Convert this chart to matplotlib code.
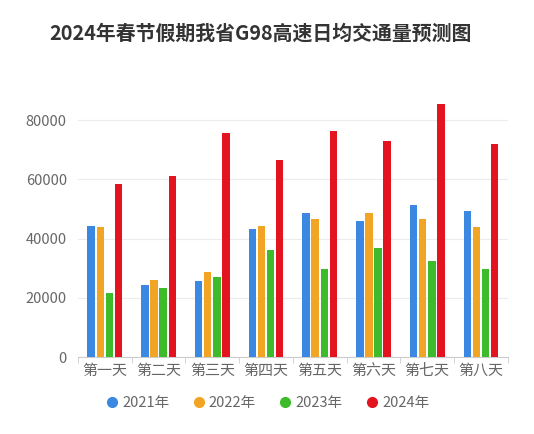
import matplotlib as mpl

mpl.use("Agg")
import matplotlib.pyplot as plt
import numpy as np
from matplotlib.lines import Line2D

plt.rcParams["font.family"] = ["Noto Sans CJK SC", "DejaVu Sans"]

# data
days = ["第一天", "第二天", "第三天", "第四天", "第五天", "第六天", "第七天", "第八天"]
years = ["2021年", "2022年", "2023年", "2024年"]
v2021 = [44200, 24300, 25700, 43300, 48500, 45800, 51200, 49400]
v2022 = [44000, 26000, 28900, 44400, 46500, 48700, 46800, 43800]
v2023 = [21700, 23200, 27100, 36100, 29800, 36800, 32500, 29900]
v2024 = [58600, 61100, 75800, 66500, 76200, 72800, 85300, 72100]
yticks = [0, 20000, 40000, 60000, 80000]

COLORS = ["#3a88e2", "#f2a524", "#3dbb2b", "#e3141f"]
TEXT = "#666666"
GRID = "#ececec"
AXIS = "#cccccc"

fig = plt.figure(figsize=(5.34, 4.34), dpi=100)
fig.patch.set_facecolor("white")
ax = fig.add_axes([0.146, 0.177, 0.805, 0.594])

x = np.arange(len(days))
width = 0.14
step = 0.17
series = [v2021, v2022, v2023, v2024]
for i, (vals, col) in enumerate(zip(series, COLORS)):
    ax.bar(x + (i - 1.5) * step, vals, width=width, color=col, zorder=3)

ax.set_xlim(-0.5, len(days) - 0.5)
ax.set_ylim(0, 87000)
ax.set_yticks(yticks)
ax.set_yticklabels([str(t) for t in yticks])
ax.set_xticks(x)
ax.set_xticklabels(days)
ax.set_xticks(np.arange(-0.5, len(days)), minor=True)
ax.tick_params(axis="x", which="major", length=0, labelsize=10.8, colors=TEXT, pad=5)
ax.tick_params(axis="x", which="minor", length=4, color=AXIS, direction="out")
ax.tick_params(axis="y", length=0, labelsize=10.5, colors=TEXT, pad=8)

ax.grid(axis="y", color=GRID, linewidth=0.8, zorder=0)
for s in ["top", "right", "left"]:
    ax.spines[s].set_visible(False)
ax.spines["bottom"].set_color(AXIS)
ax.spines["bottom"].set_linewidth(0.8)

fig.text(0.487, 0.924, "2024年春节假期我省G98高速日均交通量预测图",
         ha="center", va="center", fontsize=14.3, fontweight="bold", color="#333333")

handles = [Line2D([], [], linestyle="none", marker="o", markersize=7,
                  markerfacecolor=c, markeredgecolor=c) for c in COLORS]
fig.legend(handles, years, loc="center", bbox_to_anchor=(0.5, 0.071), ncol=4,
           frameon=False, fontsize=10.5, labelcolor=TEXT, handletextpad=0.2,
           columnspacing=1.5, handlelength=1.0)

fig.savefig("out.png", dpi=100, facecolor="white")
